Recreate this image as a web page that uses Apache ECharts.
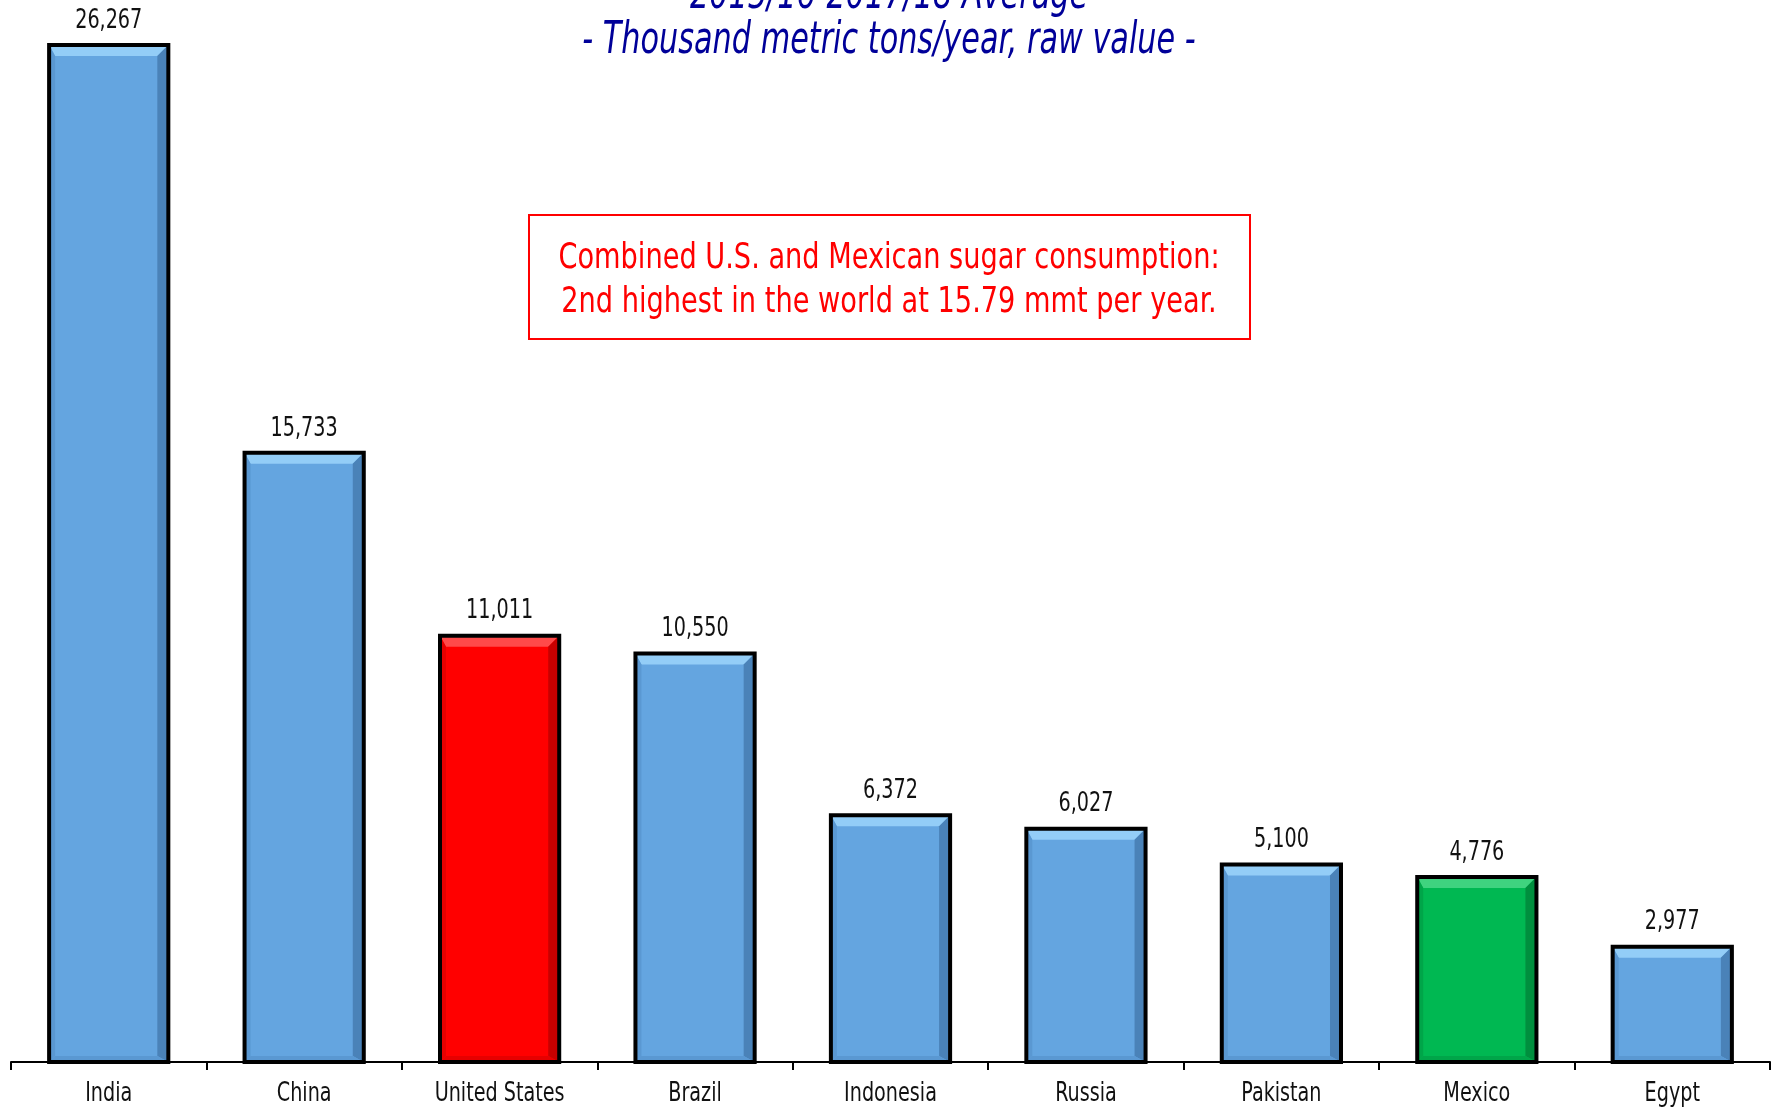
<!DOCTYPE html>
<html>
<head>
<meta charset="utf-8">
<script src="https://cdn.jsdelivr.net/npm/echarts@6/dist/echarts.min.js"></script>
<style>
html,body{margin:0;padding:0;background:#fff;}
#chart{width:1771px;height:1110px;}
</style>
</head>
<body>
<div id="chart"></div>
<script>
const categories = ["India", "China", "United States", "Brazil", "Indonesia", "Russia", "Pakistan", "Mexico", "Egypt"];
const consumption = [26267, 15733, 11011, 10550, 6372, 6027, 5100, 4776, 2977];
const titleLine1 = "2015/16-2017/18 Average";
const titleLine2 = "- Thousand metric tons/year, raw value -";
const noteLines = ["Combined U.S. and Mexican sugar consumption:", "2nd highest in the world at 15.79 mmt per year."];

const FONT = "'DejaVu Sans Condensed', 'Liberation Sans Narrow', sans-serif";
const BAR_RATIO = 0.61;
// palette: [base, highlight(top), shade(right), soft shade(left/bottom)]
const palettes = {
  "United States": ["#ff0000", "#ff4a4a", "#c80000", "#e60000"],
  "Mexico": ["#00b852", "#3fd37f", "#008f3e", "#00a549"]
};
const defaultPalette = ["#64a5e0", "#93cdf7", "#4a82b8", "#5a98d2"];
const paletteOf = i => palettes[categories[i]] || defaultPalette;

const chart = echarts.init(document.getElementById('chart'), null, {renderer: 'canvas'});
chart.setOption({
  backgroundColor: '#ffffff',
  animation: false,
  grid: {left: 11, right: 1, top: 45, bottom: 48, containLabel: false},
  xAxis: {
    type: 'category',
    data: categories,
    axisLine: {lineStyle: {color: '#000', width: 2}},
    axisTick: {show: true, interval: 0, length: 8, lineStyle: {color: '#000', width: 2}},
    axisLabel: {show: false}
  },
  yAxis: {type: 'value', min: 0, max: 26267, show: false, splitLine: {show: false}},
  series: [
    {
      type: 'bar',
      barWidth: (BAR_RATIO * 100) + '%',
      data: consumption.map((v, i) => ({value: v, itemStyle: {color: paletteOf(i)[0]}})),
      itemStyle: {borderWidth: 0},
      z: 2
    },
    {
      // bevel + outline drawn on top of each bar
      type: 'custom',
      data: consumption.map((v, i) => [i, v]),
      encode: {x: 0, y: 1},
      clip: false, silent: true, z: 3,
      renderItem: (params, api) => {
        const i = api.value(0);
        const top = api.coord([i, api.value(1)]);
        const base = api.coord([i, 0]);
        const w = api.size([1, 0])[0] * BAR_RATIO;
        const x0 = top[0] - w / 2, x1 = top[0] + w / 2, y0 = top[1], y1 = base[1];
        const b = 11, bl = 6;
        const pal = paletteOf(i);
        return {
          type: 'group',
          children: [
            {type: 'polygon', shape: {points: [[x0, y0], [x1, y0], [x1 - b, y0 + b], [x0 + bl, y0 + b]]}, style: {fill: pal[1]}},
            {type: 'polygon', shape: {points: [[x1, y0], [x1, y1], [x1 - b, y1 - bl], [x1 - b, y0 + b]]}, style: {fill: pal[2]}},
            {type: 'polygon', shape: {points: [[x0, y0], [x0 + bl, y0 + b], [x0 + bl, y1 - bl], [x0, y1]]}, style: {fill: pal[3]}},
            {type: 'polygon', shape: {points: [[x0, y1], [x0 + bl, y1 - bl], [x1 - b, y1 - bl], [x1, y1]]}, style: {fill: pal[3]}},
            {type: 'rect', shape: {x: x0, y: y0, width: w, height: y1 - y0}, style: {fill: null, stroke: '#000', lineWidth: 4}}
          ]
        };
      }
    },
    {
      // value labels (condensed via horizontal scaling)
      type: 'custom',
      data: consumption.map((v, i) => [i, v]),
      encode: {x: 0, y: 1},
      clip: false, silent: true, z: 4,
      renderItem: (params, api) => {
        const p = api.coord([api.value(0), api.value(1)]);
        return {
          type: 'text', x: p[0], y: p[1] - 11, scaleX: 0.82,
          style: {text: consumption[params.dataIndex].toLocaleString('en-US'), fontFamily: FONT, fontSize: 26,
                  fill: '#111', align: 'center', verticalAlign: 'bottom'}
        };
      }
    },
    {
      // category labels
      type: 'custom',
      data: categories.map((c, i) => [i, 0]),
      encode: {x: 0, y: 1},
      clip: false, silent: true, z: 4,
      renderItem: (params, api) => {
        const p = api.coord([api.value(0), 0]);
        return {
          type: 'text', x: p[0], y: p[1] + 19, scaleX: 0.82,
          style: {text: categories[params.dataIndex], fontFamily: FONT, fontSize: 26,
                  fill: '#111', align: 'center', verticalAlign: 'top'}
        };
      }
    }
  ],
  graphic: [
    {type: 'text', x: 889, y: -25, scaleX: 0.765, style: {text: titleLine1, fontFamily: FONT, fontSize: 44, fontStyle: 'italic', fill: '#000099', align: 'center', verticalAlign: 'top'}},
    {type: 'text', x: 889, y: 20, scaleX: 0.765, style: {text: titleLine2, fontFamily: FONT, fontSize: 44, fontStyle: 'italic', fill: '#000099', align: 'center', verticalAlign: 'top'}},
    {type: 'rect', shape: {x: 529, y: 215, width: 721, height: 124}, style: {fill: '#fff', stroke: '#ff0000', lineWidth: 2}},
    {type: 'text', x: 889, y: 281, scaleX: 0.84, style: {text: noteLines.join('\n'), fontFamily: FONT, fontSize: 36, lineHeight: 44, fill: '#ff0000', align: 'center', verticalAlign: 'middle'}}
  ]
});
</script>
</body>
</html>
